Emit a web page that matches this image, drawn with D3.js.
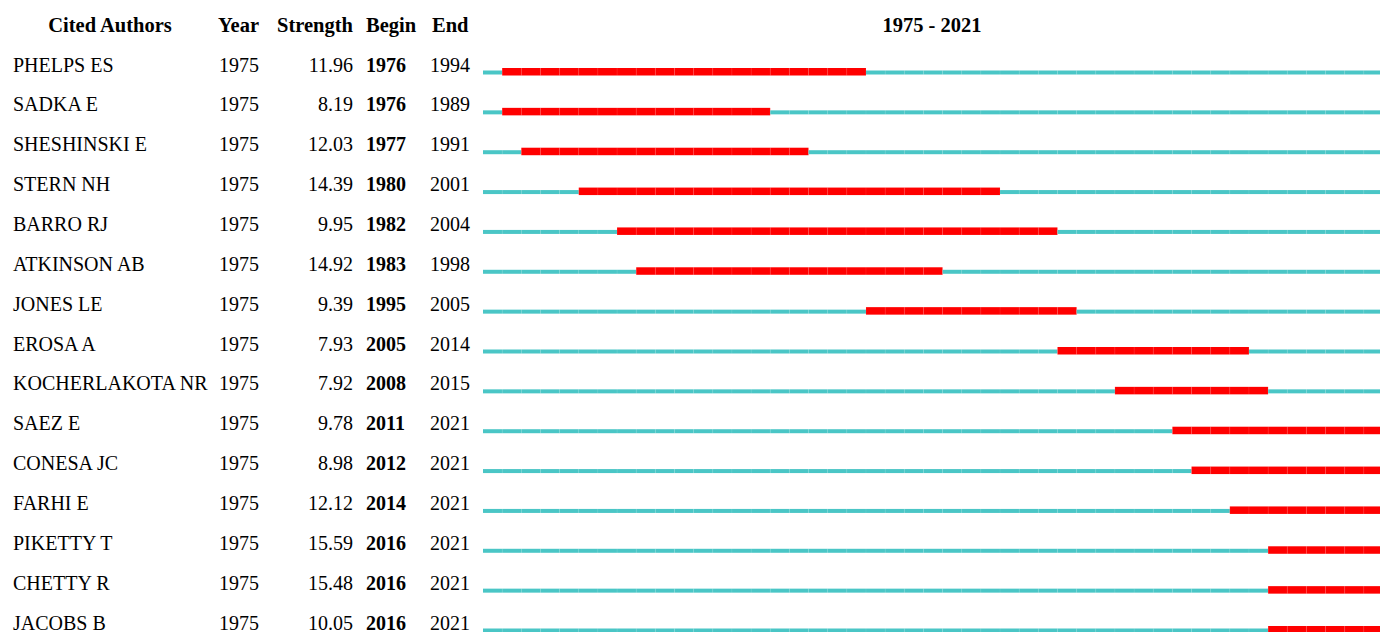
<!DOCTYPE html>
<html>
<head>
<meta charset="utf-8">
<script src="https://cdn.jsdelivr.net/npm/d3@7"></script>
<style>
  body { margin: 0; background: #fff; }
  svg { display: block; font-family: "Liberation Serif", "Times New Roman", serif; }
</style>
</head>
<body>
<div id="chart"></div>
<script>
// burst table data
var authors = ["PHELPS ES", "SADKA E", "SHESHINSKI E", "STERN NH", "BARRO RJ", "ATKINSON AB",
    "JONES LE", "EROSA A", "KOCHERLAKOTA NR", "SAEZ E", "CONESA JC", "FARHI E",
    "PIKETTY T", "CHETTY R", "JACOBS B"];
var years = [1975, 1975, 1975, 1975, 1975, 1975, 1975, 1975, 1975, 1975, 1975, 1975, 1975, 1975, 1975];
var strengths = ["11.96", "8.19", "12.03", "14.39", "9.95", "14.92", "9.39", "7.93", "7.92",
    "9.78", "8.98", "12.12", "15.59", "15.48", "10.05"];
var begins = [1976, 1976, 1977, 1980, 1982, 1983, 1995, 2005, 2008, 2011, 2012, 2014, 2016, 2016, 2016];
var ends = [1994, 1989, 1991, 2001, 2004, 1998, 2005, 2014, 2015, 2021, 2021, 2021, 2021, 2021, 2021];
var headers = ["Cited Authors", "Year", "Strength", "Begin", "End"];
var firstYear = 1975, lastYear = 2021;

var width = 1380, height = 632;

var svg = d3.select("#chart").append("svg")
    .attr("width", width)
    .attr("height", height);

// timeline scale: each year owns one cell
var x = d3.scaleLinear()
    .domain([firstYear, lastYear + 1])
    .range([483, 1383]);

// row baselines
var y = d3.scaleLinear()
    .domain([0, authors.length - 1])
    .range([71.5, 629.5]);

var allYears = d3.range(firstYear, lastYear + 1);

// header
var head = svg.append("g").attr("font-weight", "bold").attr("font-size", 20.5);
head.append("text").attr("x", 110).attr("y", 31.5).attr("text-anchor", "middle").text(headers[0]);
head.append("text").attr("x", 218).attr("y", 31.5).text(headers[1]);
head.append("text").attr("x", 353).attr("y", 31.5).attr("text-anchor", "end").text(headers[2]);
head.append("text").attr("x", 366).attr("y", 31.5).text(headers[3]);
head.append("text").attr("x", 432).attr("y", 31.5).text(headers[4]);
head.append("text")
    .attr("x", 932)
    .attr("y", 31.5)
    .attr("text-anchor", "middle")
    .text(firstYear + " - " + lastYear);

var rows = svg.selectAll("g.row")
    .data(authors)
    .enter().append("g")
    .attr("class", "row")
    .attr("font-size", 20)
    .attr("transform", function(d, i) { return "translate(0," + y(i) + ")"; });

rows.append("text").attr("x", 13).text(function(d) { return d; });
rows.append("text").attr("x", 219).text(function(d, i) { return years[i]; });
rows.append("text").attr("x", 353).attr("text-anchor", "end").text(function(d, i) { return strengths[i]; });
rows.append("text").attr("x", 366).attr("font-weight", "bold").text(function(d, i) { return begins[i]; });
rows.append("text").attr("x", 430).text(function(d, i) { return ends[i]; });

// one cell per year, red inside the burst, teal outside
rows.each(function(d, i) {
    var g = d3.select(this);
    var inBurst = function(yr) { return yr >= begins[i] && yr <= ends[i]; };
    g.selectAll("rect.cell")
        .data(allYears)
        .enter().append("rect")
        .attr("class", "cell")
        .attr("x", function(yr) { return x(yr); })
        .attr("width", function(yr) { return x(yr + 1) - x(yr); })
        .attr("y", function(yr) { return inBurst(yr) ? -3.5 : -1; })
        .attr("height", function(yr) { return inBurst(yr) ? 7.5 : 4; })
        .attr("fill", function(yr) { return inBurst(yr) ? "#ff0000" : "#4ac6c6"; });
    // very faint divider between year cells
    g.selectAll("line.div")
        .data(allYears.slice(1))
        .enter().append("line")
        .attr("class", "div")
        .attr("x1", function(yr) { return x(yr); })
        .attr("x2", function(yr) { return x(yr); })
        .attr("y1", -3.5)
        .attr("y2", 4)
        .attr("stroke", "#fff")
        .attr("stroke-opacity", 0.08)
        .attr("stroke-width", 1);
});
</script>
</body>
</html>
